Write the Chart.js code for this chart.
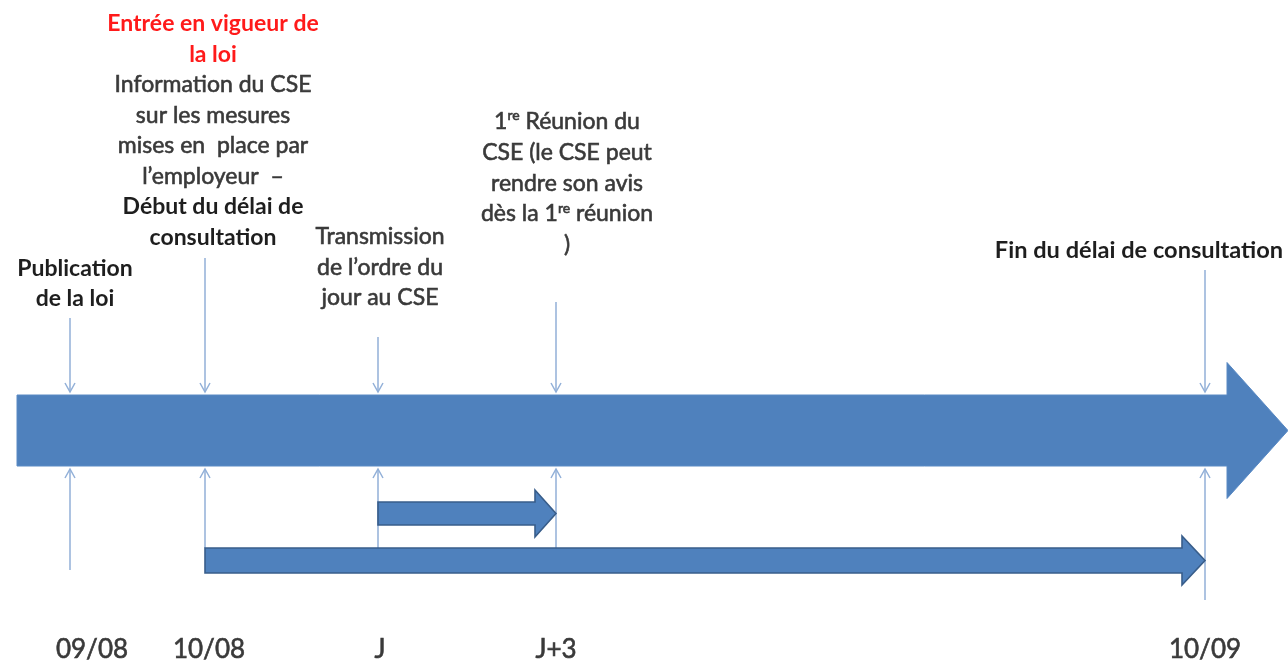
<!DOCTYPE html>
<html lang="fr">
<head>
<meta charset="utf-8">
<title>Délai de consultation du CSE</title>
<script src="https://cdn.jsdelivr.net/npm/chart.js@4.4.1/dist/chart.umd.min.js"></script>
<style>
  html, body { margin: 0; padding: 0; background: #ffffff; }
  #wrap { width: 1288px; height: 664px; }
</style>
</head>
<body>
<div id="wrap"><canvas id="myChart"></canvas></div>
<script>
// Timeline of the CSE consultation period, drawn with Chart.js

const eventDates = ['09/08', '10/08', 'J', 'J+3', '10/09'];      // date under each event
const eventPos = [70, 205, 378, 556, 1205];                       // place of each event on the timeline
const timelineStart = 17;                                         // the big arrow runs from here...
const timelineEnd = 1288;                                         // ...to here
const periods = [[2, 3], [1, 4]];                                 // arrows below: [from event, to event]

const noteTexts = [
    ['Publication', 'de la loi'],
    ['Entrée en vigueur de', 'la loi', 'Information du CSE', 'sur les mesures',
     'mises en  place par', 'l’employeur  –', 'Début du délai de', 'consultation'],
    ['Transmission', 'de l’ordre du', 'jour au CSE'],
    ['1<sup>re</sup> Réunion du', 'CSE (le CSE peut', 'rendre son avis',
     'dès la 1<sup>re</sup> réunion', ')'],
    ['Fin du délai de consultation']
];

// ---- layout & styles (picture units: y goes down from the top) ----
const FONT = 'Lato, "Open Sans", sans-serif';
const BLUE = '#4f81bd';
const LINE_BLUE = '#92b0d8';
const textStyles = {
    regular: { weight: 'normal', color: '#3a3a3a', thicken: 0.6 },
    bold:    { weight: 'bold',   color: '#1e1e1e', thicken: 0 },
    red:     { weight: 'bold',   color: '#ff1a1a', thicken: 0 }
};
const noteLayout = [
    { cx: 75,   base: 276, step: 30, size: 23, styles: ['bold', 'bold'] },
    { cx: 213,  base: 31,  step: 30.5, size: 23, styles: ['red', 'red', 'regular', 'regular', 'regular', 'regular', 'bold', 'bold'] },
    { cx: 380,  base: 244, step: 30.5, size: 23, styles: ['regular', 'regular', 'regular'] },
    { cx: 567,  base: 129, step: 30.8, size: 23, styles: ['regular', 'regular', 'regular', 'regular', 'regular'] },
    { cx: 1139, base: 258, step: 30, size: 23.6, styles: ['bold'] }
];
const dateOffset = [22, 4, 2, 0, 0];      // date labels are not all centred on their line
const dateBaseline = 658;
const mainLane = { center: 430.5, body: 71, head: 136, headLen: 61 };
const periodLanes = [
    { center: 513.5, body: 23, head: 47, headLen: 21 },
    { center: 560.5, body: 25, head: 49, headLen: 23 }
];
const connectorTop = [318, 258, 337, 302, 270];
const connectorBottom = [570, 548, 548, 548, 600];
const barTop = mainLane.center - mainLane.body / 2;
const barBottom = mainLane.center + mainLane.body / 2;

// connectors between the notes and the timeline: one small line dataset each
const connectorSets = [];
eventPos.forEach((pos, i) => {
    connectorSets.push({
        data: [{ x: pos, y: connectorTop[i] }, { x: pos, y: barTop - 3 }]
    });
    connectorSets.push({
        data: [{ x: pos, y: barBottom + 3 }, { x: pos, y: connectorBottom[i] }]
    });
});

function arrowPath(ctx, x0, x1, cy, body, head, headLen) {
    const hb = x1 - headLen;
    ctx.beginPath();
    ctx.moveTo(x0, cy - body / 2);
    ctx.lineTo(hb, cy - body / 2);
    ctx.lineTo(hb, cy - head / 2);
    ctx.lineTo(x1, cy);
    ctx.lineTo(hb, cy + head / 2);
    ctx.lineTo(hb, cy + body / 2);
    ctx.lineTo(x0, cy + body / 2);
    ctx.closePath();
}

function chevron(ctx, px, py, dir) {                 // dir 1 = pointing down, -1 = up
    ctx.beginPath();
    ctx.moveTo(px - 5, py - dir * 9);
    ctx.lineTo(px, py);
    ctx.lineTo(px + 5, py - dir * 9);
    ctx.stroke();
}

function drawRich(ctx, text, cx, base, size, style) {
    const parts = text.split(/(<sup>.*?<\/sup>)/).filter(p => p.length);
    const runs = parts.map(p => {
        const sup = p.startsWith('<sup>');
        return { t: sup ? p.slice(5, -6) : p, sup: sup };
    });
    const fontFor = r => style.weight + ' ' + (r.sup ? Math.round(size * 0.6) : size) + 'px ' + FONT;
    let total = 0;
    runs.forEach(r => { ctx.font = fontFor(r); r.w = ctx.measureText(r.t).width; total += r.w; });
    let x = cx - total / 2;
    ctx.fillStyle = style.color;
    ctx.strokeStyle = style.color;
    ctx.lineWidth = style.thicken;
    runs.forEach(r => {
        ctx.font = fontFor(r);
        const yy = r.sup ? base - size * 0.38 : base;
        ctx.fillText(r.t, x, yy);
        if (style.thicken) ctx.strokeText(r.t, x, yy);
        x += r.w;
    });
}

const timelinePlugin = {
    id: 'timeline',
    afterDatasetsDraw(chart) {
        const { ctx, scales: { x, y } } = chart;
        const py = v => y.getPixelForValue(v);
        const h = v => Math.abs(py(v) - py(0));
        ctx.save();

        // the big timeline arrow
        arrowPath(ctx, x.getPixelForValue(timelineStart), x.getPixelForValue(timelineEnd),
            py(mainLane.center), h(mainLane.body), h(mainLane.head), mainLane.headLen);
        ctx.fillStyle = BLUE;
        ctx.fill();
        ctx.strokeStyle = '#5a8ac4';
        ctx.lineWidth = 1;
        ctx.stroke();

        // period arrows
        periods.forEach((p, i) => {
            const lane = periodLanes[i];
            arrowPath(ctx, x.getPixelForValue(eventPos[p[0]]), x.getPixelForValue(eventPos[p[1]]),
                py(lane.center), h(lane.body), h(lane.head), lane.headLen);
            ctx.fillStyle = BLUE;
            ctx.fill();
            ctx.strokeStyle = '#385d8a';
            ctx.lineWidth = 1.6;
            ctx.stroke();
        });

        // open arrow heads of the connectors
        ctx.strokeStyle = LINE_BLUE;
        ctx.lineWidth = 1.5;
        eventPos.forEach(pos => {
            chevron(ctx, x.getPixelForValue(pos), py(barTop - 3), 1);
            chevron(ctx, x.getPixelForValue(pos), py(barBottom + 3), -1);
        });

        // notes above the timeline
        ctx.textBaseline = 'alphabetic';
        noteTexts.forEach((lines, i) => {
            const lay = noteLayout[i];
            lines.forEach((line, j) => {
                drawRich(ctx, line, x.getPixelForValue(lay.cx), py(lay.base + j * lay.step),
                    lay.size, textStyles[lay.styles[j]]);
            });
        });

        // dates under the timeline
        eventDates.forEach((d, i) => {
            drawRich(ctx, d, x.getPixelForValue(eventPos[i] + dateOffset[i]), py(dateBaseline),
                26, textStyles.regular);
        });
        ctx.restore();
    }
};

function createChart() {
    const ctx = document.getElementById('myChart');
    new Chart(ctx, {
        type: 'scatter',
        data: {
            datasets: connectorSets.map(s => ({
                data: s.data,
                showLine: true,
                borderColor: LINE_BLUE,
                borderWidth: 1.5,
                pointRadius: 0
            }))
        },
        options: {
            responsive: true,
            maintainAspectRatio: false,
            animation: false,
            layout: { padding: 0 },
            scales: {
                x: { type: 'linear', min: 0, max: 1288, display: false },
                y: { type: 'linear', min: 0, max: 664, reverse: true, display: false }
            },
            plugins: {
                legend: { display: false },
                tooltip: { enabled: false }
            }
        },
        plugins: [timelinePlugin]
    });
}
createChart();
</script>
</body>
</html>
